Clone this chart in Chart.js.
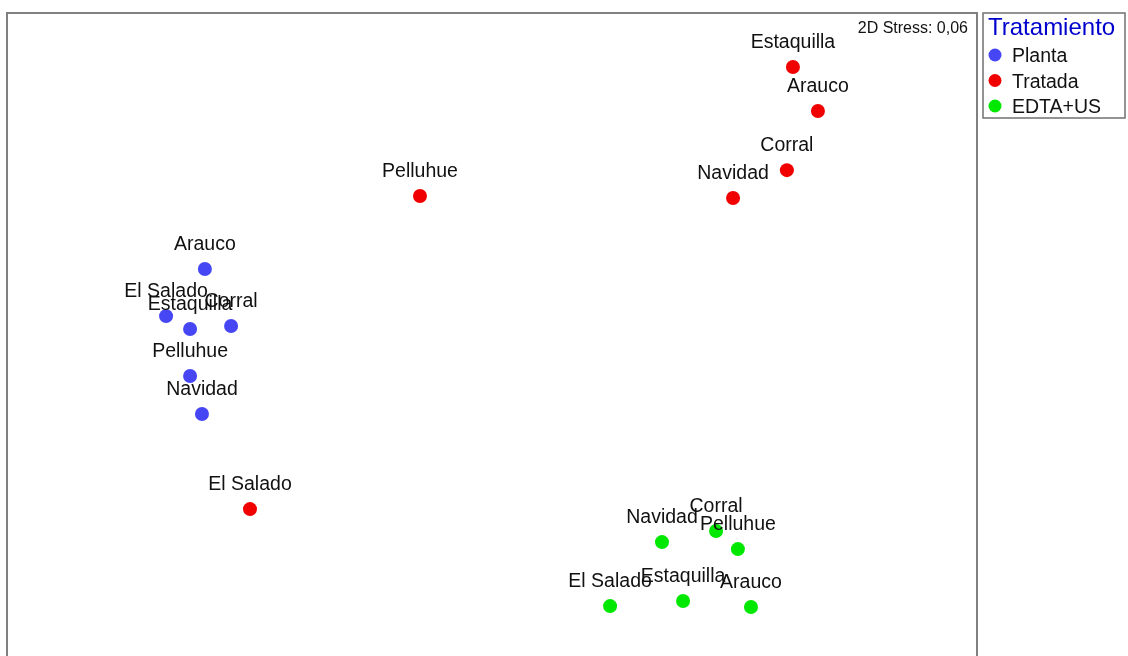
<!DOCTYPE html>
<html>
<head>
<meta charset="utf-8">
<script src="https://cdn.jsdelivr.net/npm/chart.js@4/dist/chart.umd.min.js"></script>
<style>
  html, body { margin: 0; padding: 0; background: #fff; overflow: hidden; }
  canvas { display: block; }
</style>
</head>
<body>
<canvas id="nmds" width="1128" height="700"></canvas>
<script>
// NMDS ordination, 2D Stress 0,06
var groups = ['Planta', 'Tratada', 'EDTA+US'];
var groupColors = ['rgb(70, 70, 245)', 'rgb(240, 0, 0)', 'rgb(0, 232, 0)'];

var plantaNames = ['Arauco', 'El Salado', 'Estaquilla', 'Corral', 'Pelluhue', 'Navidad'];
var plantaX = [-1.184, -1.344, -1.245, -1.076, -1.245, -1.196];
var plantaY = [0.299, 0.105, 0.052, 0.064, -0.142, -0.299];

var tratadaNames = ['Estaquilla', 'Arauco', 'Corral', 'Navidad', 'Pelluhue', 'El Salado'];
var tratadaX = [1.241, 1.344, 1.216, 0.994, -0.297, -0.998];
var tratadaY = [1.132, 0.951, 0.707, 0.592, 0.600, -0.691];

var edtaNames = ['Navidad', 'Corral', 'Pelluhue', 'El Salado', 'Estaquilla', 'Arauco'];
var edtaX = [0.701, 0.924, 1.014, 0.487, 0.788, 1.068];
var edtaY = [-0.827, -0.781, -0.856, -1.091, -1.070, -1.095];

var stressText = '2D Stress: 0,06';
var FONT = '"Liberation Sans", Arial, sans-serif';

function toPoints(xs, ys) {
    return xs.map(function(x, i) { return { x: x, y: ys[i] }; });
}

var seriesNames = [plantaNames, tratadaNames, edtaNames];
var seriesData = [toPoints(plantaX, plantaY), toPoints(tratadaX, tratadaY), toPoints(edtaX, edtaY)];

var boxAndLabels = {
    id: 'boxAndLabels',
    afterDatasetsDraw: function(chart) {
        var ctx = chart.ctx, a = chart.chartArea;
        ctx.save();
        // plot frame
        ctx.strokeStyle = '#808080';
        ctx.lineWidth = 2;
        ctx.strokeRect(a.left, a.top, a.right - a.left, a.bottom - a.top);

        // sample labels above each point
        ctx.fillStyle = '#111';
        ctx.font = '19.5px ' + FONT;
        ctx.textAlign = 'center';
        ctx.textBaseline = 'alphabetic';
        chart.data.datasets.forEach(function(ds, di) {
            var meta = chart.getDatasetMeta(di);
            meta.data.forEach(function(pt, i) {
                ctx.fillText(seriesNames[di][i], pt.x, pt.y - 19);
            });
        });

        // stress annotation
        ctx.font = '16px ' + FONT;
        ctx.textAlign = 'right';
        ctx.fillText(stressText, a.right - 9, a.top + 20);
        ctx.restore();
    },
    afterDraw: function(chart) {
        // legend box on the right
        var ctx = chart.ctx, a = chart.chartArea;
        var lx = a.right + 6, ly = a.top, lw = 142, lh = 105;
        ctx.save();
        ctx.strokeStyle = '#707070';
        ctx.lineWidth = 1.5;
        ctx.strokeRect(lx, ly, lw, lh);
        ctx.fillStyle = '#0000CC';
        ctx.font = '24px ' + FONT;
        ctx.textAlign = 'left';
        ctx.textBaseline = 'alphabetic';
        ctx.fillText('Tratamiento', lx + 5, ly + 22);
        ctx.font = '19.5px ' + FONT;
        chart.data.datasets.forEach(function(ds, i) {
            var cy = ly + 42 + i * 25.5;
            ctx.fillStyle = ds.backgroundColor;
            ctx.beginPath();
            ctx.arc(lx + 12, cy, 6.5, 0, Math.PI * 2);
            ctx.fill();
            ctx.fillStyle = '#111';
            ctx.fillText(ds.label, lx + 29, cy + 7);
        });
        ctx.restore();
    }
};

var ctx = document.getElementById('nmds').getContext('2d');
var chart = new Chart(ctx, {
    type: 'scatter',
    data: {
        datasets: groups.map(function(g, i) {
            return {
                label: g,
                data: seriesData[i],
                backgroundColor: groupColors[i],
                borderWidth: 0,
                pointRadius: 7,
                pointHoverRadius: 7
            };
        })
    },
    options: {
        responsive: false,
        animation: false,
        layout: { padding: { left: 7, top: 13, right: 151, bottom: 10 } },
        scales: {
            x: { display: false, min: -2, max: 2 },
            y: { display: false, min: -1.437, max: 1.355 }
        },
        plugins: {
            legend: { display: false },
            tooltip: { enabled: false }
        }
    },
    plugins: [boxAndLabels]
});
</script>
</body>
</html>
